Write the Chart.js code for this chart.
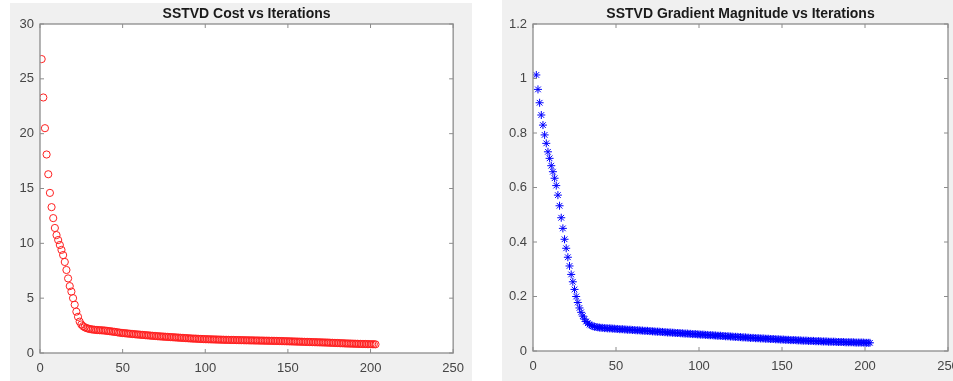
<!DOCTYPE html>
<html>
<head>
<meta charset="utf-8">
<script src="https://cdn.jsdelivr.net/npm/chart.js@4/dist/chart.umd.min.js"></script>
<style>
    html, body { margin: 0; padding: 0; background: #ffffff; overflow: hidden; width: 953px; height: 381px; }
    .panel { position: absolute; background: #f0f0f0; }
    canvas { position: absolute; }
</style>
</head>
<body>
<div class="panel" style="left:10px; top:3px; width:462px; height:378px;"></div>
<div class="panel" style="left:502px; top:0px; width:451px; height:381px;"></div>
<canvas id="cost" width="462" height="377" style="left:10px; top:4px;"></canvas>
<canvas id="grad" width="470" height="377" style="left:502px; top:4px;"></canvas>
<script>
// cost per iteration (iteration 1 .. 203)
const costValues = [
    26.8, 23.3, 20.5, 18.1, 16.3, 14.6, 13.3, 12.3, 11.4, 10.75,
    10.3, 9.85, 9.4, 8.93, 8.3, 7.57, 6.8, 6.1, 5.6, 5.0,
    4.4, 3.77, 3.3, 2.86, 2.6, 2.45, 2.35, 2.28, 2.23, 2.19,
    2.16, 2.14, 2.12, 2.1, 2.09, 2.08, 2.07, 2.06, 2.05, 2.03,
    2.01, 1.99, 1.97, 1.95, 1.93, 1.91, 1.88, 1.86, 1.84, 1.82,
    1.81, 1.79, 1.78, 1.76, 1.75, 1.73, 1.72, 1.70, 1.69, 1.68,
    1.66, 1.65, 1.64, 1.62, 1.61, 1.60, 1.58, 1.57, 1.56, 1.55,
    1.53, 1.52, 1.51, 1.50, 1.49, 1.48, 1.47, 1.46, 1.45, 1.44,
    1.43, 1.42, 1.41, 1.40, 1.39, 1.38, 1.37, 1.36, 1.35, 1.34,
    1.33, 1.32, 1.31, 1.31, 1.30, 1.29, 1.28, 1.28, 1.27, 1.26,
    1.26, 1.25, 1.25, 1.24, 1.24, 1.23, 1.23, 1.22, 1.22, 1.21,
    1.21, 1.20, 1.20, 1.20, 1.19, 1.19, 1.19, 1.18, 1.18, 1.18,
    1.17, 1.17, 1.17, 1.16, 1.16, 1.16, 1.15, 1.15, 1.15, 1.14,
    1.14, 1.14, 1.13, 1.13, 1.13, 1.12, 1.12, 1.12, 1.11, 1.11,
    1.11, 1.10, 1.10, 1.10, 1.09, 1.09, 1.08, 1.08, 1.07, 1.07,
    1.06, 1.06, 1.05, 1.05, 1.04, 1.04, 1.03, 1.03, 1.02, 1.02,
    1.01, 1.01, 1.00, 1.00, 0.99, 0.99, 0.98, 0.98, 0.97, 0.97,
    0.96, 0.96, 0.95, 0.95, 0.94, 0.93, 0.93, 0.92, 0.91, 0.91,
    0.90, 0.89, 0.89, 0.88, 0.87, 0.87, 0.86, 0.86, 0.85, 0.85,
    0.84, 0.84, 0.83, 0.83, 0.82, 0.82, 0.82, 0.81, 0.81, 0.80,
    0.80, 0.80, 0.79
];
const costFirstIteration = 1;

// gradient magnitude per iteration (iteration 2 .. 203)
const gradValues = [
    1.013, 0.96, 0.911, 0.866, 0.829, 0.793, 0.762, 0.731, 0.707, 0.68,
    0.658, 0.634, 0.607, 0.572, 0.533, 0.489, 0.45, 0.41, 0.377, 0.344,
    0.312, 0.281, 0.254, 0.226, 0.2, 0.178, 0.158, 0.142, 0.128, 0.117,
    0.108, 0.102, 0.097, 0.094, 0.091, 0.089, 0.088, 0.087, 0.086, 0.085,
    0.085, 0.084, 0.084, 0.083, 0.083, 0.083, 0.082, 0.082, 0.081, 0.081,
    0.080, 0.080, 0.080, 0.079, 0.079, 0.078, 0.078, 0.078, 0.077, 0.077,
    0.076, 0.076, 0.076, 0.075, 0.075, 0.074, 0.074, 0.074, 0.073, 0.073,
    0.072, 0.072, 0.071, 0.071, 0.071, 0.070, 0.070, 0.069, 0.069, 0.068,
    0.068, 0.068, 0.067, 0.067, 0.066, 0.066, 0.066, 0.065, 0.065, 0.064,
    0.064, 0.064, 0.063, 0.063, 0.062, 0.062, 0.062, 0.061, 0.061, 0.060,
    0.060, 0.060, 0.059, 0.059, 0.058, 0.058, 0.058, 0.057, 0.057, 0.056,
    0.056, 0.056, 0.055, 0.055, 0.054, 0.054, 0.054, 0.053, 0.053, 0.052,
    0.052, 0.052, 0.051, 0.051, 0.050, 0.050, 0.050, 0.049, 0.049, 0.048,
    0.048, 0.048, 0.047, 0.047, 0.047, 0.046, 0.046, 0.046, 0.045, 0.045,
    0.045, 0.044, 0.044, 0.044, 0.043, 0.043, 0.043, 0.042, 0.042, 0.042,
    0.041, 0.041, 0.041, 0.040, 0.040, 0.040, 0.040, 0.039, 0.039, 0.039,
    0.038, 0.038, 0.038, 0.038, 0.037, 0.037, 0.037, 0.037, 0.036, 0.036,
    0.036, 0.036, 0.035, 0.035, 0.035, 0.035, 0.034, 0.034, 0.034, 0.034,
    0.034, 0.033, 0.033, 0.033, 0.033, 0.033, 0.032, 0.032, 0.032, 0.032,
    0.032, 0.032, 0.031, 0.031, 0.031, 0.031, 0.031, 0.031, 0.030, 0.030,
    0.030, 0.030
];
const gradFirstIteration = 2;

const xTicks = [0, 50, 100, 150, 200, 250];
const costYTicks = [0, 5, 10, 15, 20, 25, 30];
const gradYTicks = [0, 0.2, 0.4, 0.6, 0.8, 1, 1.2];

const axisColor = '#8c8c8c';
const labelColor = '#454545';

// white plot area, matlab style box with inward ticks
const boxPlugin = {
    id: 'boxAxes',
    beforeDatasetsDraw(chart) {
        const a = chart.chartArea;
        chart.ctx.save();
        chart.ctx.fillStyle = '#ffffff';
        chart.ctx.fillRect(a.left, a.top, a.right - a.left, a.bottom - a.top);
        chart.ctx.restore();
    },
    afterDraw(chart) {
        const ctx = chart.ctx;
        const a = chart.chartArea;
        const xs = chart.scales.x;
        const ys = chart.scales.y;
        const len = 4;
        ctx.save();
        ctx.strokeStyle = axisColor;
        ctx.lineWidth = 1.3;
        ctx.strokeRect(a.left, a.top, a.right - a.left, a.bottom - a.top);
        ctx.lineWidth = 1;
        ctx.beginPath();
        xs.ticks.forEach(t => {
            const px = xs.getPixelForValue(t.value);
            ctx.moveTo(px, a.bottom); ctx.lineTo(px, a.bottom - len);
            ctx.moveTo(px, a.top); ctx.lineTo(px, a.top + len);
        });
        ys.ticks.forEach(t => {
            const py = ys.getPixelForValue(t.value);
            ctx.moveTo(a.left, py); ctx.lineTo(a.left + len, py);
            ctx.moveTo(a.right, py); ctx.lineTo(a.right - len, py);
        });
        ctx.stroke();
        ctx.restore();
    }
};

function makeChart(id, title, values, firstIter, yTicks, yMax, yWidth, xHeight, padRight, style, color, radius) {
    const points = values.map((v, i) => ({ x: firstIter + i, y: v }));
    return new Chart(document.getElementById(id), {
        type: 'scatter',
        data: {
            datasets: [{
                data: points,
                pointStyle: style,
                pointRadius: radius,
                borderColor: color,
                backgroundColor: 'rgba(0,0,0,0)',
                borderWidth: 1
            }]
        },
        options: {
            responsive: false,
            animation: false,
            layout: { padding: { left: 0, right: padRight, top: 0, bottom: 0 } },
            plugins: {
                legend: { display: false },
                tooltip: { enabled: false },
                title: {
                    display: true,
                    text: title,
                    fullSize: false,
                    color: '#1a1a1a',
                    font: { family: 'Liberation Sans, Arial, sans-serif', size: 14, weight: 'bold' },
                    padding: { top: 2, bottom: 1.2 }
                }
            },
            scales: {
                x: {
                    type: 'linear',
                    min: xTicks[0],
                    max: xTicks[xTicks.length - 1],
                    afterBuildTicks: s => { s.ticks = xTicks.map(v => ({ value: v })); },
                    afterFit: s => { s.height = xHeight; },
                    grid: { display: false, drawTicks: false },
                    border: { display: false },
                    ticks: {
                        padding: 8,
                        maxRotation: 0,
                        color: labelColor,
                        callback: v => String(v),
                        font: { family: 'Liberation Sans, Arial, sans-serif', size: 13 }
                    }
                },
                y: {
                    type: 'linear',
                    min: 0,
                    max: yMax,
                    afterBuildTicks: s => { s.ticks = yTicks.map(v => ({ value: v })); },
                    afterFit: s => { s.width = yWidth; },
                    grid: { display: false, drawTicks: false },
                    border: { display: false },
                    ticks: {
                        padding: 6,
                        color: labelColor,
                        callback: v => String(v),
                        font: { family: 'Liberation Sans, Arial, sans-serif', size: 13 }
                    }
                }
            }
        },
        plugins: [boxPlugin]
    });
}

makeChart('cost', 'SSTVD Cost vs Iterations', costValues, costFirstIteration,
    costYTicks, 30, 30, 28, 14.5, 'circle', '#ff2020', 3.6);
makeChart('grad', 'SSTVD Gradient Magnitude vs Iterations', gradValues, gradFirstIteration,
    gradYTicks, 1.2, 31, 30, 24, 'star', '#0000ff', 4);
</script>
</body>
</html>
